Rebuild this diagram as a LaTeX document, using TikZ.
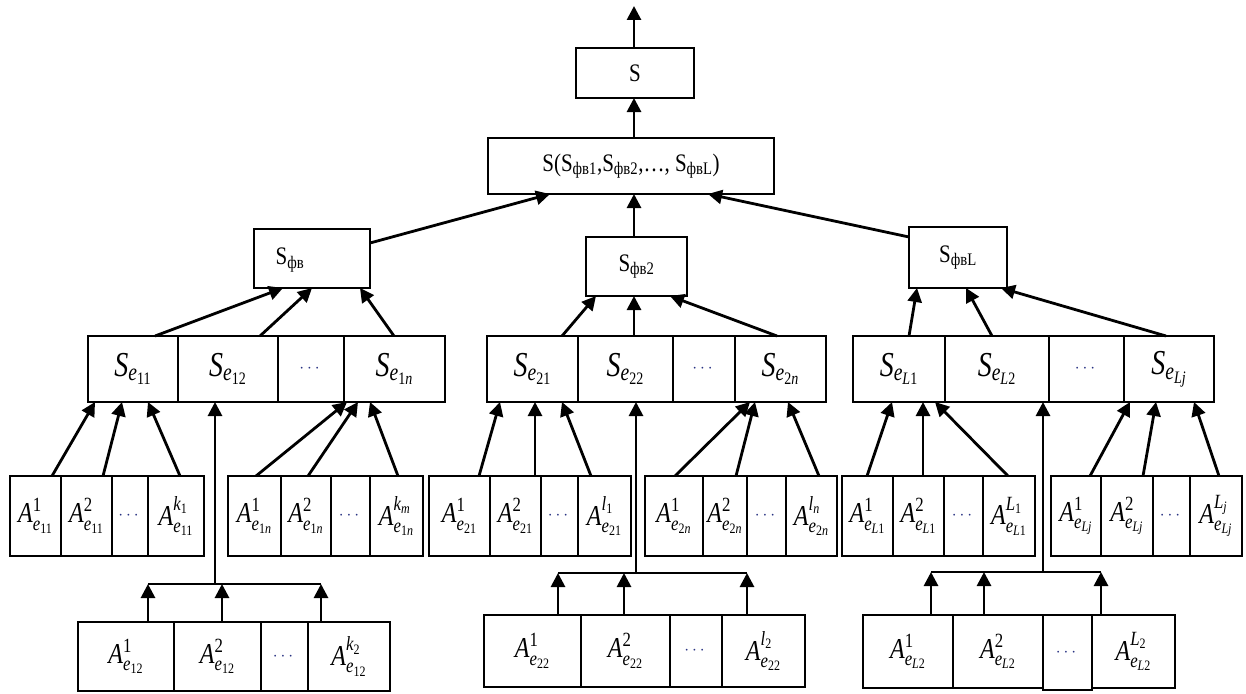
\documentclass[tikz,border=0pt]{standalone}
\usepackage{amsmath}
\usepackage{fontspec}
\setmainfont{Liberation Serif}
\usetikzlibrary{arrows.meta}
\definecolor{dotc}{RGB}{40,50,130}
\newcommand\itx[1]{\text{\itshape #1}}
\newcommand\upx[1]{\text{\upshape #1}}
\newcommand\vsq[1]{\scalebox{1}[1.2]{#1}}
\newcommand\vsr[1]{\scalebox{1}[1.25]{#1}}
\newcommand\rmlab[1]{{\fontsize{21}{25}\selectfont\vsq{#1}}}
\newcommand\selab[1]{{\fontsize{28}{32}\selectfont\vsr{$\itx{S}_{\itx{e}_{#1}}$}}}
\newcommand\alab[2]{{\fontsize{24}{28}\selectfont\vsq{$\itx{A}^{#1}_{\itx{e}_{#2}}$}}}
\newcommand\hsup[1]{\raisebox{3pt}{$\scriptstyle #1$}}
\newcommand\dotlab{{\fontsize{18}{20}\selectfont\color{dotc}$\cdots$}}
\newcommand\cellbx[6]{\node[cellbox, minimum width={(#4-#2)*1pt}, minimum height={(#5-#3)*1pt}] (#1) at ({(#2+#4)/2},{(#3+#5)/2}) {#6};}
\tikzset{
  cellbox/.style={draw, line width=2.1pt, inner sep=0pt, outer sep=0pt},
  arr/.style={line width=2.8pt, -{Triangle[length=14pt,width=14pt]}},
  ln/.style={line width=2.4pt}
}
\begin{document}
\begin{tikzpicture}[x=1pt,y=-1pt]
\fill[white] (0,0) rectangle (1246,693);
\useasboundingbox (0,0) rectangle (1246,693);
% top
\coordinate (top) at (634,6);
\cellbx{s}{576}{48}{694}{98}{\rmlab{S}}
\cellbx{sall}{488}{138}{774}{194}{\rmlab{S(S\textsubscript{фв1},S\textsubscript{фв2},\ldots, S\textsubscript{фвL})}}
\cellbx{f1}{254}{229}{370}{288}{}
\node[inner sep=0pt] (f1t) at (290,260) {\rmlab{S\textsubscript{фв}}};
\cellbx{f2}{586}{237}{687}{296}{\rmlab{S\textsubscript{фв2}}}
\cellbx{fL}{909}{227}{1007}{288}{\rmlab{S\textsubscript{фвL}}}
% S_e rows
\cellbx{se11}{88}{336}{178}{402}{\selab{\upx{11}}}
\cellbx{se12}{178}{336}{278}{402}{\selab{\upx{12}}}
\cellbx{se1d}{278}{336}{344}{402}{\dotlab}
\cellbx{se1n}{344}{336}{445}{402}{\selab{\upx{1}\itx{n}}}
\cellbx{se21}{487}{336}{578}{402}{\selab{\upx{21}}}
\cellbx{se22}{578}{336}{673}{402}{\selab{\upx{22}}}
\cellbx{se2d}{673}{336}{735}{402}{\dotlab}
\cellbx{se2n}{735}{336}{826}{402}{\selab{\upx{2}\itx{n}}}
\cellbx{seL1}{853}{336}{945}{402}{\selab{\itx{L}\upx{1}}}
\cellbx{seL2}{945}{336}{1049}{402}{\selab{\itx{L}\upx{2}}}
\cellbx{seLd}{1049}{336}{1124}{402}{\dotlab}
\cellbx{seLj}{1124}{336}{1214}{402}{\selab{\itx{Lj}}}
% A rows
\cellbx{a11a}{10}{476}{61}{556}{\alab{\upx{1}}{\upx{11}}}
\cellbx{a11b}{61}{476}{112}{556}{\alab{\upx{2}}{\upx{11}}}
\cellbx{a11d}{112}{476}{148}{556}{\dotlab}
\cellbx{a11k}{148}{476}{204}{556}{\alab{\hsup{\itx{k}_{\upx{1}}}}{\upx{11}}}
\cellbx{a1na}{228}{476}{281}{556}{\alab{\upx{1}}{\upx{1}\itx{n}}}
\cellbx{a1nb}{281}{476}{331}{556}{\alab{\upx{2}}{\upx{1}\itx{n}}}
\cellbx{a1nd}{331}{476}{370}{556}{\dotlab}
\cellbx{a1nk}{370}{476}{423}{556}{\alab{\hsup{\itx{k}_{\itx{m}}}}{\upx{1}\itx{n}}}
\cellbx{a21a}{429}{476}{490}{556}{\alab{\upx{1}}{\upx{21}}}
\cellbx{a21b}{490}{476}{541}{556}{\alab{\upx{2}}{\upx{21}}}
\cellbx{a21d}{541}{476}{578}{556}{\dotlab}
\cellbx{a21k}{578}{476}{631}{556}{\alab{\hsup{\itx{l}_{\upx{1}}}}{\upx{21}}}
\cellbx{a2na}{645}{476}{703}{556}{\alab{\upx{1}}{\upx{2}\itx{n}}}
\cellbx{a2nb}{703}{476}{747}{556}{\alab{\upx{2}}{\upx{2}\itx{n}}}
\cellbx{a2nd}{747}{476}{786}{556}{\dotlab}
\cellbx{a2nk}{786}{476}{837}{556}{\alab{\hsup{\itx{l}_{\itx{n}}}}{\upx{2}\itx{n}}}
\cellbx{aL1a}{842}{476}{893}{556}{\alab{\upx{1}}{\itx{L}\upx{1}}}
\cellbx{aL1b}{893}{476}{944}{556}{\alab{\upx{2}}{\itx{L}\upx{1}}}
\cellbx{aL1d}{944}{476}{983}{556}{\dotlab}
\cellbx{aL1k}{983}{476}{1035}{556}{\alab{\hsup{\itx{L}_{\upx{1}}}}{\itx{L}\upx{1}}}
\cellbx{aLja}{1051}{476}{1101}{556}{\alab{\upx{1}}{\itx{Lj}}}
\cellbx{aLjb}{1101}{476}{1153}{556}{\alab{\upx{2}}{\itx{Lj}}}
\cellbx{aLjd}{1153}{476}{1190}{556}{\dotlab}
\cellbx{aLjk}{1190}{476}{1242}{556}{\alab{\hsup{\itx{L}_{\itx{j}}}}{\itx{Lj}}}
% bottom rows
\cellbx{b1a}{78}{622}{174}{691}{\alab{\upx{1}}{\upx{12}}}
\cellbx{b1b}{174}{622}{261}{691}{\alab{\upx{2}}{\upx{12}}}
\cellbx{b1d}{261}{622}{308}{691}{\dotlab}
\cellbx{b1k}{308}{622}{390}{691}{\alab{\hsup{\itx{k}_{\upx{2}}}}{\upx{12}}}
\cellbx{b2a}{484}{615}{581}{687}{\alab{\upx{1}}{\upx{22}}}
\cellbx{b2b}{581}{615}{670}{687}{\alab{\upx{2}}{\upx{22}}}
\cellbx{b2d}{670}{615}{722}{687}{\dotlab}
\cellbx{b2k}{722}{615}{805}{687}{\alab{\hsup{\itx{l}_{\upx{2}}}}{\upx{22}}}
\cellbx{b3a}{863}{615}{953}{688}{\alab{\upx{1}}{\itx{L}\upx{2}}}
\cellbx{b3b}{953}{615}{1043}{688}{\alab{\upx{2}}{\itx{L}\upx{2}}}
\cellbx{b3d}{1043}{615}{1092}{690}{\dotlab}
\cellbx{b3k}{1092}{615}{1175}{688}{\alab{\hsup{\itx{L}_{\upx{2}}}}{\itx{L}\upx{2}}}
% top connectors
\draw[arr] (634,0 |- s.north) -- (top);
\draw[arr] (634,0 |- sall.north) -- (634,0 |- s.south);
\draw[arr] (f1.east |- 0,243) -- (550,0 |- sall.south);
\draw[arr] (634,0 |- f2.north) -- (634,0 |- sall.south);
\draw[arr] (fL.west |- 0,237) -- (708,0 |- sall.south);
% S_e -> f
\draw[arr] (155,0 |- se11.north) -- (283,0 |- f1.south);
\draw[arr] (260,0 |- se12.north) -- (312,0 |- f1.south);
\draw[arr] (394,0 |- se1n.north) -- (360,0 |- f1.south);
\draw[arr] (562,0 |- se21.north) -- (596,0 |- f2.south);
\draw[arr] (634,0 |- se22.north) -- (634,0 |- f2.south);
\draw[arr] (777,0 |- se2n.north) -- (670,0 |- f2.south);
\draw[arr] (909,0 |- seL1.north) -- (917,0 |- fL.south);
\draw[arr] (992,0 |- seL2.north) -- (966,0 |- fL.south);
\draw[arr] (1166,0 |- seLj.north) -- (1001,0 |- fL.south);
% A -> S_e
\draw[arr] (52,0 |- a11a.north) -- (95,0 |- se11.south);
\draw[arr] (103,0 |- a11b.north) -- (122,0 |- se11.south);
\draw[arr] (180,0 |- a11k.north) -- (148,0 |- se11.south);
\draw[arr] (256,0 |- a1na.north) -- (347,0 |- se1n.south);
\draw[arr] (308,0 |- a1nb.north) -- (358,0 |- se1n.south);
\draw[arr] (398,0 |- a1nk.north) -- (370,0 |- se1n.south);
\draw[arr] (479,0 |- a21a.north) -- (500,0 |- se21.south);
\draw[arr] (535,0 |- a21b.north) -- (535,0 |- se21.south);
\draw[arr] (591,0 |- a21k.north) -- (562,0 |- se21.south);
\draw[arr] (675,0 |- a2na.north) -- (750,0 |- se2n.south);
\draw[arr] (736,0 |- a2nb.north) -- (755,0 |- se2n.south);
\draw[arr] (819,0 |- a2nk.north) -- (788,0 |- se2n.south);
\draw[arr] (867,0 |- aL1a.north) -- (892,0 |- seL1.south);
\draw[arr] (923,0 |- aL1b.north) -- (923,0 |- seL1.south);
\draw[arr] (1008,0 |- aL1k.north) -- (935,0 |- seL1.south);
\draw[arr] (1090,0 |- aLja.north) -- (1130,0 |- seLj.south);
\draw[arr] (1143,0 |- aLjb.north) -- (1156,0 |- seLj.south);
\draw[arr] (1219,0 |- aLjk.north) -- (1194,0 |- seLj.south);
% bottom group 1
\coordinate (j1) at (215,584);
\coordinate (j1l) at (148,584);
\coordinate (j1m) at (222,584);
\coordinate (j1r) at (321,584);
\draw[ln] (j1l) -- (j1r);
\draw[arr] (j1l |- b1a.north) -- (j1l);
\draw[arr] (j1m |- b1b.north) -- (j1m);
\draw[arr] (j1r |- b1k.north) -- (j1r);
\draw[arr] (j1) -- (j1 |- se12.south);
% bottom group 2
\coordinate (j2) at (636,573);
\coordinate (j2l) at (558,573);
\coordinate (j2m) at (624,573);
\coordinate (j2r) at (747,573);
\draw[ln] (j2l) -- (j2r);
\draw[arr] (j2l |- b2a.north) -- (j2l);
\draw[arr] (j2m |- b2b.north) -- (j2m);
\draw[arr] (j2r |- b2k.north) -- (j2r);
\draw[arr] (j2) -- (j2 |- se22.south);
% bottom group 3
\coordinate (j3) at (1043,572);
\coordinate (j3l) at (931,572);
\coordinate (j3m) at (984,572);
\coordinate (j3r) at (1101,572);
\draw[ln] (j3l) -- (j3r);
\draw[arr] (j3l |- b3a.north) -- (j3l);
\draw[arr] (j3m |- b3b.north) -- (j3m);
\draw[arr] (j3r |- b3k.north) -- (j3r);
\draw[arr] (j3) -- (j3 |- seL2.south);
\end{tikzpicture}
\end{document}
